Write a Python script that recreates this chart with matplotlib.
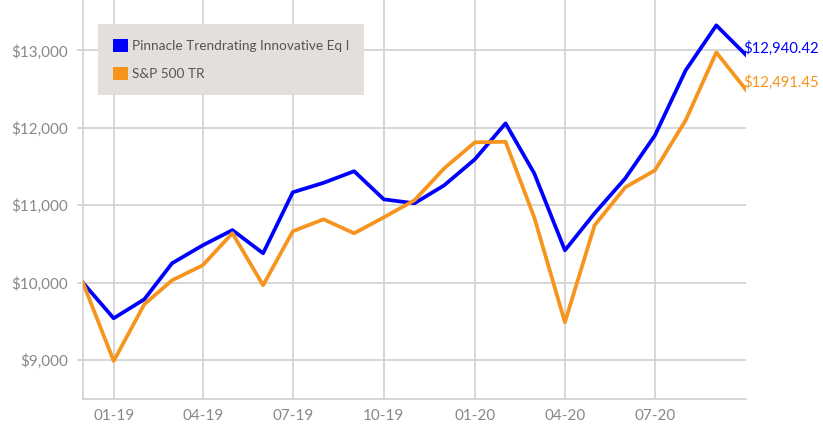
import pandas as pd
import numpy as np
import matplotlib.pyplot as plt
import matplotlib.dates as mdates
from matplotlib.patches import Patch
from matplotlib.ticker import FuncFormatter

plt.rcParams['font.family'] = ['Lato', 'DejaVu Sans']

# datos mensuales (crecimiento de $10,000)
months = pd.date_range('2018-12-01', '2020-10-01', freq='MS')
pinnacle = [10000, 9542, 9787, 10252, 10484, 10680, 10381, 11168, 11290, 11440,
            11077, 11026, 11258, 11594, 12058, 11413, 10419, 10897, 11348, 11903,
            12742, 13323, 12940.42]
sp500 = [10000, 8990, 9723, 10032, 10226, 10640, 9968, 10665, 10819, 10639,
         10845, 11065, 11477, 11813, 11820, 10845, 9490, 10742, 11232, 11452,
         12097, 12974, 12491.45]
names = ['Pinnacle Trendrating Innovative Eq I', 'S&P 500 TR']
colors = ['#0000ff', '#f7941d']

fig = plt.figure(figsize=(8.23, 4.24), dpi=100)
ax = fig.add_axes([83/823, 25/424, 663/823, 399/424])

for serie, name, c in zip([pinnacle, sp500], names, colors):
    ax.plot(months, serie, color=c, lw=2.7, zorder=3)
    ax.annotate('${:,.2f}'.format(serie[-1]), (months[-1], serie[-1]),
                xytext=(-2, 5), textcoords='offset points', color=c,
                fontsize=10.7, ha='left', va='center', zorder=4)

ax.set_xlim(months[0], months[-1])
ax.set_ylim(8500, 13650)
ax.set_yticks([9000, 10000, 11000, 12000, 13000])
ax.yaxis.set_major_formatter(FuncFormatter(lambda v, p: '${:,.0f}'.format(v)))
xt = [m for m in months if m.month in (1, 4, 7, 10)][:-1]
ax.set_xticks(xt)
ax.xaxis.set_major_formatter(mdates.DateFormatter('%m-%y'))

ax.grid(True, color='#d0d0d0', lw=1.2)
ax.set_axisbelow(True)
for s in ['top', 'right']:
    ax.spines[s].set_visible(False)
for s in ['left', 'bottom']:
    ax.spines[s].set_color('#d0d0d0')
    ax.spines[s].set_linewidth(1.2)
ax.tick_params(axis='y', colors='#d0d0d0', labelcolor='#888888', labelsize=11,
               length=4.3, width=1.2, pad=6.5)
ax.tick_params(axis='x', length=0, labelcolor='#888888', labelsize=11, pad=7)

handles = [Patch(facecolor=c, edgecolor='none') for c in colors]
leg = ax.legend(handles, names, loc='upper left', bbox_to_anchor=(15/663, 1 - 24/399),
                frameon=True, fancybox=False, facecolor='#e3e0dc', edgecolor='none',
                framealpha=1, fontsize=9.8, handlelength=1.1, handleheight=1.1,
                handletextpad=0.3, labelspacing=1.1, borderpad=1.08,
                borderaxespad=0)
for t in leg.get_texts():
    t.set_color('#555555')
leg.set_zorder(5)

fig.savefig('out.png', dpi=100)
